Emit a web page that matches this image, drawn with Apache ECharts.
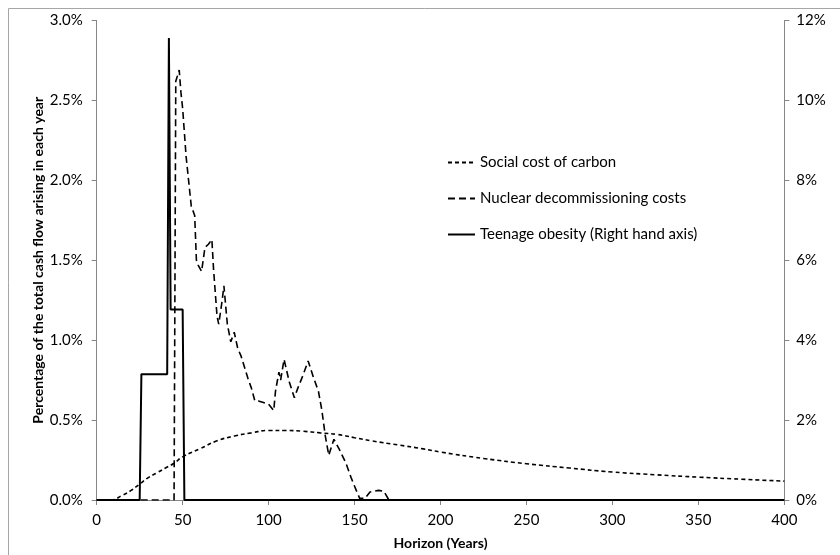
<!DOCTYPE html>
<html>
<head>
<meta charset="utf-8">
<script src="https://cdn.jsdelivr.net/npm/echarts@6/dist/echarts.min.js"></script>
<style>
  html, body { margin: 0; padding: 0; background: #fff; }
  #chart { width: 840px; height: 555px; }
</style>
</head>
<body>
<div id="chart"></div>
<script>
// values: [year, percent]
const socialCostOfCarbon = [
  [0, 0], [8, 0], [15, 0.03], [20, 0.06], [25, 0.10], [30, 0.14], [35, 0.17],
  [40, 0.20], [45, 0.23], [50, 0.27], [60, 0.32], [70, 0.37], [80, 0.40],
  [90, 0.42], [100, 0.435], [110, 0.435], [120, 0.43], [130, 0.42], [140, 0.41],
  [150, 0.39], [160, 0.37], [175, 0.345], [190, 0.32], [200, 0.30], [225, 0.26],
  [250, 0.227], [275, 0.20], [300, 0.175], [325, 0.158], [350, 0.143],
  [375, 0.13], [400, 0.118]
];

const nuclearDecommissioning = [
  [0, 0], [45, 0], [46, 2.62], [48, 2.69], [49, 2.55], [50, 2.45], [52, 2.15],
  [55, 1.84], [57, 1.78], [58, 1.50], [59, 1.47], [61, 1.43], [63, 1.58],
  [65, 1.60], [67, 1.63], [68, 1.44], [70, 1.15], [71, 1.10], [73, 1.25],
  [74, 1.34], [76, 1.10], [78, 0.99], [80, 1.05], [82, 0.95], [84, 0.90],
  [86, 0.83], [88, 0.76], [90, 0.70], [92, 0.62], [94, 0.62], [97, 0.61],
  [100, 0.60], [103, 0.56], [104, 0.68], [106, 0.80], [107, 0.75], [109, 0.88],
  [112, 0.74], [115, 0.64], [117, 0.70], [120, 0.78], [123, 0.87], [126, 0.77],
  [129, 0.68], [131, 0.56], [133, 0.40], [135, 0.28], [138, 0.38], [141, 0.32],
  [145, 0.23], [148, 0.14], [151, 0.06], [153, 0.01], [156, 0.01], [159, 0.05],
  [164, 0.06], [167, 0.055], [170, 0], [400, 0]
];

// right hand axis
const teenageObesity = [
  [0, 0], [25, 0], [26, 3.15], [41, 3.15], [42, 11.56], [43, 4.77],
  [50, 4.77], [51, 0], [400, 0]
];

const seriesNames = [
  "Social cost of carbon",
  "Nuclear decommissioning costs",
  "Teenage obesity (Right hand axis)"
];

const font = "Lato, 'Open Sans', sans-serif";
const axisGray = "#868686";

const chart = echarts.init(document.getElementById("chart"));

chart.setOption({
  animation: false,
  textStyle: { fontFamily: font },
  graphic: [
    {
      type: "rect",
      shape: { x: 8.5, y: 8.5, width: 900, height: 600 },
      style: { fill: "none", stroke: "#a6a6a6", lineWidth: 1 },
      silent: true,
    },
  ],
  legend: {
    orient: "vertical",
    left: 442,
    top: 150,
    itemWidth: 27,
    itemHeight: 14,
    itemGap: 21,
    // line sample only, no marker
    itemStyle: { color: "rgba(0,0,0,0)", borderWidth: 0, opacity: 0 },
    textStyle: { fontFamily: font, fontSize: 15, color: "#000" },
    data: seriesNames,
  },
  grid: {
    left: 96.7,
    right: 840 - 784.3,
    top: 20.5,
    bottom: 55,
    containLabel: false,
  },
  xAxis: {
    type: "value",
    min: 0,
    max: 400,
    interval: 50,
    name: "Horizon (Years)",
    nameLocation: "middle",
    nameGap: 36,
    nameMoveOverlap: false,
    nameTextStyle: { fontFamily: font, fontSize: 14, fontWeight: "bold", color: "#000" },
    axisLine: { lineStyle: { color: axisGray } },
    axisTick: { show: true, length: 5, lineStyle: { color: axisGray } },
    axisLabel: { fontFamily: font, fontSize: 15, color: "#000", margin: 13 },
    splitLine: { show: false },
  },
  yAxis: [
    {
      type: "value",
      min: 0,
      max: 3,
      interval: 0.5,
      position: "left",
      name: "Percentage of the total cash flow arising in each year",
      nameLocation: "middle",
      nameGap: 51,
      nameMoveOverlap: false,
      nameTextStyle: { fontFamily: font, fontSize: 14, fontWeight: "bold", color: "#000" },
      axisLine: { show: true, lineStyle: { color: axisGray } },
      axisTick: { show: true, length: 5, lineStyle: { color: axisGray } },
      axisLabel: {
        fontFamily: font,
        fontSize: 15,
        color: "#000",
        margin: 14,
        formatter: (v) => v.toFixed(1) + "%",
      },
      splitLine: { show: false },
    },
    {
      type: "value",
      min: 0,
      max: 12,
      interval: 2,
      position: "right",
      axisLine: { show: true, lineStyle: { color: axisGray } },
      axisTick: { show: true, length: 5, lineStyle: { color: axisGray } },
      axisLabel: {
        fontFamily: font,
        fontSize: 15,
        color: "#000",
        margin: 12,
        formatter: (v) => v + "%",
      },
      splitLine: { show: false },
    },
  ],
  series: [
    {
      name: seriesNames[0],
      type: "line",
      yAxisIndex: 0,
      data: socialCostOfCarbon,
      smooth: true,
      symbol: "none",
      lineStyle: { color: "#000", width: 1.6, type: [4, 3] },
      itemStyle: { color: "#000" },
    },
    {
      name: seriesNames[1],
      type: "line",
      yAxisIndex: 0,
      data: nuclearDecommissioning,
      symbol: "none",
      lineStyle: { color: "#000", width: 1.6, type: [7, 4] },
      itemStyle: { color: "#000" },
    },
    {
      name: seriesNames[2],
      type: "line",
      yAxisIndex: 1,
      data: teenageObesity,
      symbol: "none",
      lineStyle: { color: "#000", width: 2 },
      itemStyle: { color: "#000" },
      z: 3,
    },
  ],
});
</script>
</body>
</html>
